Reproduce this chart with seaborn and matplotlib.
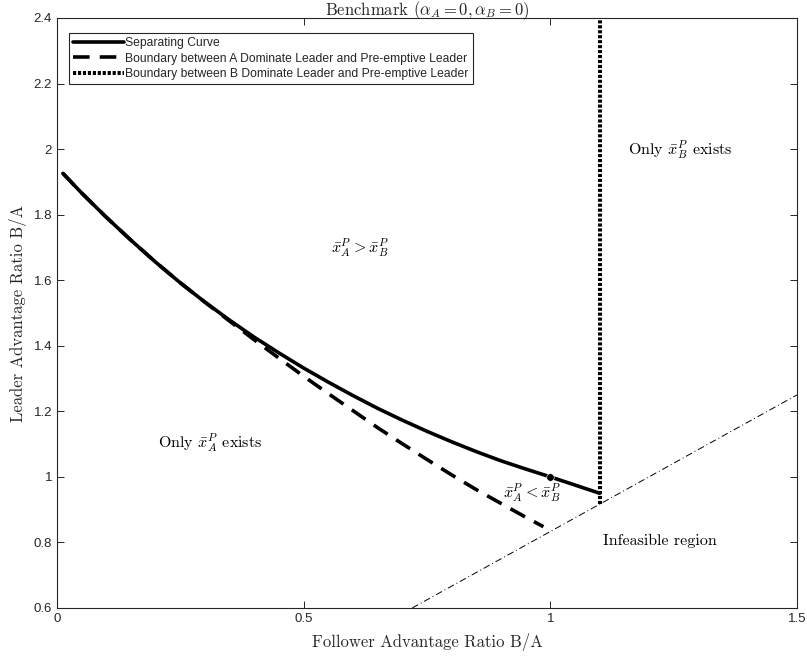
import numpy as np
import pandas as pd
import matplotlib
matplotlib.use("Agg")
import matplotlib.pyplot as plt
import seaborn as sns

# Separating curve between the two pre-emption thresholds
sep_x = [0.012, 0.05, 0.10, 0.15, 0.20, 0.25, 0.30, 0.35, 0.40, 0.45, 0.50,
         0.55, 0.60, 0.65, 0.70, 0.75, 0.80, 0.85, 0.90, 0.95, 1.00, 1.05, 1.10]
sep_y = [1.926, 1.866, 1.792, 1.722, 1.655, 1.592, 1.533, 1.478, 1.426, 1.378,
         1.332, 1.289, 1.248, 1.209, 1.173, 1.139, 1.107, 1.077, 1.049, 1.024,
         1.000, 0.975, 0.950]

# Boundary between A dominate leader and pre-emptive leader
bndA_x = [0.012, 0.05, 0.10, 0.15, 0.20, 0.25, 0.30, 0.35, 0.40, 0.45, 0.50,
          0.55, 0.60, 0.65, 0.70, 0.75, 0.80, 0.85, 0.90, 0.95, 0.986]
bndA_y = [1.926, 1.866, 1.792, 1.722, 1.655, 1.592, 1.533, 1.475, 1.418, 1.362,
          1.307, 1.254, 1.202, 1.150, 1.101, 1.053, 1.006, 0.961, 0.919, 0.877,
          0.848]

# Boundary between B dominate leader and pre-emptive leader (vertical)
bndB_x = [1.1, 1.1]
bndB_y = [0.9167, 2.4]

# Feasibility limit: leader ratio = follower ratio / 1.2
feas_x = [0.72, 1.5]
feas_y = [0.60, 1.25]

# Marked point on the separating curve
mark_x = [1.0]
mark_y = [1.0]

sns.set_style("ticks")
plt.rcParams["mathtext.fontset"] = "cm"
plt.rcParams["axes.unicode_minus"] = False

fig = plt.figure(figsize=(8.07, 6.56), dpi=100)
ax = fig.add_axes([0.0706, 0.0732, 0.917, 0.8994])

serif = "cmr10"
line_kw = dict(ax=ax, color="black", sort=False, estimator=None)

sns.lineplot(x=sep_x, y=sep_y, lw=2.6, label="Separating Curve", **line_kw)
sns.lineplot(x=bndA_x, y=bndA_y, lw=2.6,
             label="Boundary between A Dominate Leader and Pre-emptive Leader",
             **line_kw)
ax.lines[-1].set_dashes([4.6, 2.8])
sns.lineplot(x=bndB_x, y=bndB_y, lw=2.9,
             label="Boundary between B Dominate Leader and Pre-emptive Leader",
             **line_kw)
ax.lines[-1].set_dashes([0.78, 0.45])
ax.lines[-1].set_clip_on(False)
sns.lineplot(x=feas_x, y=feas_y, lw=0.7, legend=False, **line_kw)
ax.lines[-1].set_dashes([7, 3, 1, 3])
sns.scatterplot(x=mark_x, y=mark_y, ax=ax, color="black", s=30, zorder=5,
                legend=False)

ax.set_xlim(0, 1.5)
ax.set_ylim(0.6, 2.4)
ax.set_xticks([0, 0.5, 1, 1.5])
ax.set_xticklabels(["0", "0.5", "1", "1.5"])
ax.set_yticks([0.6, 0.8, 1.0, 1.2, 1.4, 1.6, 1.8, 2.0, 2.2, 2.4])
ax.set_yticklabels(["0.6", "0.8", "1", "1.2", "1.4", "1.6", "1.8", "2", "2.2", "2.4"])

spine_col = "#262626"
for s in ax.spines.values():
    s.set_visible(True)
    s.set_color(spine_col)
    s.set_linewidth(0.8)
ax.tick_params(direction="in", length=5, width=0.7, color=spine_col,
               top=True, right=True, labelsize=9.5, labelcolor="#262626")
for lab in ax.get_xticklabels() + ax.get_yticklabels():
    lab.set_fontfamily("Liberation Sans")

ax.set_xlabel("Follower Advantage Ratio B/A", fontfamily=serif, fontsize=12,
              labelpad=6)
ax.set_ylabel("Leader Advantage Ratio B/A", fontfamily=serif, fontsize=12,
              labelpad=5)
ax.set_title(r"Benchmark $(\alpha_A=0,\alpha_B=0)$", fontfamily=serif,
             fontsize=12, pad=2)

txt_kw = dict(fontfamily=serif, fontsize=11.5, ha="center", va="center",
              color="black")
ax.text(0.614, 1.698, r"$\bar{x}_A^P > \bar{x}_B^P$", **txt_kw)
ax.text(0.31, 1.103, r"Only $\bar{x}_A^P$ exists", **txt_kw)
ax.text(1.263, 1.997, r"Only $\bar{x}_B^P$ exists", **txt_kw)
ax.text(0.963, 0.951, r"$\bar{x}_A^P < \bar{x}_B^P$", **txt_kw)
ax.text(1.222, 0.804, "Infeasible region", **txt_kw)

leg = ax.legend(loc="upper left", bbox_to_anchor=(0.016, 0.975),
                frameon=True, fancybox=False, handlelength=4.2,
                handletextpad=0.1, borderpad=0.35, labelspacing=0.3,
                borderaxespad=0,
                prop={"family": "Liberation Sans", "size": 8.7})
leg.get_frame().set_edgecolor("#262626")
leg.get_frame().set_linewidth(0.8)
leg.get_frame().set_alpha(1)

fig.savefig("out.png", dpi=100)
